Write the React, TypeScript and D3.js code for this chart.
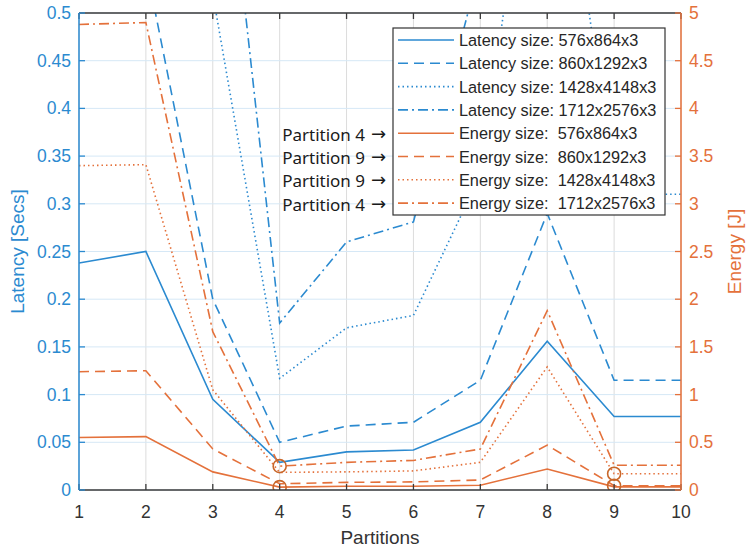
import React from "react";
import * as d3 from "d3";

const partitions = [1, 2, 3, 4, 5, 6, 7, 8, 9, 10];

const latency576 = [0.238, 0.25, 0.095, 0.029, 0.04, 0.042, 0.071, 0.156, 0.077, 0.077];
const latency860 = [0.53, 0.55, 0.2, 0.05, 0.067, 0.071, 0.115, 0.29, 0.115, 0.115];
const latency1428 = [0.62, 0.65, 0.52, 0.117, 0.17, 0.183, 0.33, 0.82, 0.31, 0.31];
const latency1712 = [0.78, 0.8, 0.81, 0.175, 0.26, 0.281, 0.55, 0.9, 0.7, 0.7];

const energy576 = [0.55, 0.56, 0.19, 0.03, 0.04, 0.04, 0.05, 0.22, 0.033, 0.033];
const energy860 = [1.24, 1.25, 0.43, 0.065, 0.08, 0.085, 0.105, 0.47, 0.045, 0.045];
const energy1428 = [3.4, 3.41, 1.05, 0.185, 0.19, 0.2, 0.29, 1.29, 0.17, 0.17];
const energy1712 = [4.88, 4.9, 1.66, 0.25, 0.29, 0.31, 0.43, 1.88, 0.26, 0.26];

const latencyTicks = [0, 0.05, 0.1, 0.15, 0.2, 0.25, 0.3, 0.35, 0.4, 0.45, 0.5];
const energyTicks = [0, 0.5, 1, 1.5, 2, 2.5, 3, 3.5, 4, 4.5, 5];

const legendLabels = [
  "Latency size: 576x864x3",
  "Latency size: 860x1292x3",
  "Latency size: 1428x4148x3",
  "Latency size: 1712x2576x3",
  "Energy size:  576x864x3",
  "Energy size:  860x1292x3",
  "Energy size:  1428x4148x3",
  "Energy size:  1712x2576x3",
];
const partitionNotes = ["Partition 4", "Partition 9", "Partition 9", "Partition 4"];
const ARROW = "\u2192";
const minPartitions = [4, 9, 9, 4];

const BLUE = "#2b8ad0";
const ORANGE = "#e4713b";
const CIRCLE = "#c8672a";
const AXIS = "#3a3a3a";

const dashes = [null, "10 6", "1.5 3", "10 4 2 4"];

export default function App() {
  const left = 79, right = 681, top = 13, bottom = 490;
  const x = d3.scaleLinear().domain([1, 10]).range([left, right]);
  const yL = d3.scaleLinear().domain([0, 0.5]).range([bottom, top]);
  const yR = d3.scaleLinear().domain([0, 5]).range([bottom, top]);

  const latSeries = [latency576, latency860, latency1428, latency1712];
  const enSeries = [energy576, energy860, energy1428, energy1712];

  const lineL = d3.line<number>().x((_, i) => x(partitions[i])).y((d) => yL(d));
  const lineR = d3.line<number>().x((_, i) => x(partitions[i])).y((d) => yR(d));

  const tickFont = "'Liberation Sans', Arial, Helvetica, sans-serif";
  const legTop = 28, legBottom = 215, legLeft = 393, legRight = 665;
  const rowY = (i: number) => 40 + i * 23.3;

  return (
    <svg
      width={747}
      height={547}
      style={{ position: "absolute", left: 0, top: 0, background: "#fff" }}
      fontFamily={tickFont}
    >
      <defs>
        <clipPath id="plot">
          <rect x={left} y={top} width={right - left} height={bottom - top} />
        </clipPath>
      </defs>
      <rect x={0} y={0} width={747} height={547} fill="#fff" />
      {/* grid */}
      {partitions.map((p) => (
        <line key={"vg" + p} x1={x(p)} x2={x(p)} y1={top} y2={bottom} stroke="#dcdcdc" strokeWidth={1} />
      ))}
      {latencyTicks.map((t) => (
        <line key={"hg" + t} x1={left} x2={right} y1={yL(t)} y2={yL(t)} stroke="#d6e8f6" strokeWidth={1} />
      ))}

      {/* data lines */}
      <g clipPath="url(#plot)" fill="none" strokeWidth={1.6}>
        {latSeries.map((s, i) => (
          <path key={"l" + i} d={lineL(s) || ""} stroke={BLUE} strokeDasharray={dashes[i] || undefined} />
        ))}
        {enSeries.map((s, i) => (
          <path key={"e" + i} d={lineR(s) || ""} stroke={ORANGE} strokeDasharray={dashes[i] || undefined} />
        ))}
        {enSeries.map((s, i) => (
          <circle
            key={"c" + i}
            cx={x(minPartitions[i])}
            cy={yR(s[minPartitions[i] - 1])}
            r={6.5}
            stroke={CIRCLE}
            strokeWidth={1.6}
            fill="none"
          />
        ))}
      </g>

      {/* top and bottom axes */}
      <line x1={left} x2={right} y1={top} y2={top} stroke={AXIS} strokeWidth={1.3} />
      <line x1={left} x2={right} y1={bottom} y2={bottom} stroke={AXIS} strokeWidth={1.3} />
      {partitions.map((p) => (
        <g key={"xt" + p}>
          <line x1={x(p)} x2={x(p)} y1={bottom} y2={bottom - 6} stroke={AXIS} strokeWidth={1.3} />
          <line x1={x(p)} x2={x(p)} y1={top} y2={top + 6} stroke={AXIS} strokeWidth={1.3} />
          <text x={x(p)} y={518} textAnchor="middle" fontSize={17.5} fill="#333">
            {p}
          </text>
        </g>
      ))}
      <text x={(left + right) / 2} y={544} textAnchor="middle" fontSize={19} fill="#333">
        Partitions
      </text>

      {/* left axis */}
      <line x1={left} x2={left} y1={top} y2={bottom} stroke={BLUE} strokeWidth={1.5} />
      {latencyTicks.map((t) => (
        <g key={"yl" + t}>
          <line x1={left} x2={left + 6} y1={yL(t)} y2={yL(t)} stroke={BLUE} strokeWidth={1.3} />
          <text x={71} y={yL(t) + 6} textAnchor="end" fontSize={17.5} fill={BLUE}>
            {String(t)}
          </text>
        </g>
      ))}
      <text transform={`translate(24,${(top + bottom) / 2}) rotate(-90)`} textAnchor="middle" fontSize={19} fill={BLUE}>
        Latency [Secs]
      </text>

      {/* right axis */}
      <line x1={right} x2={right} y1={top} y2={bottom} stroke={ORANGE} strokeWidth={1.5} />
      {energyTicks.map((t) => (
        <g key={"yr" + t}>
          <line x1={right} x2={right - 6} y1={yR(t)} y2={yR(t)} stroke={ORANGE} strokeWidth={1.3} />
          <text x={689} y={yR(t) + 6} textAnchor="start" fontSize={17.5} fill={ORANGE}>
            {String(t)}
          </text>
        </g>
      ))}
      <text transform={`translate(741,${(top + bottom) / 2}) rotate(-90)`} textAnchor="middle" fontSize={19} fill={ORANGE}>
        Energy [J]
      </text>

      {/* legend */}
      <rect x={legLeft} y={legTop} width={legRight - legLeft} height={legBottom - legTop} fill="#fff" stroke="#333" strokeWidth={1.2} />
      {legendLabels.map((lab, i) => (
        <g key={"lg" + i}>
          <line
            x1={398}
            x2={454}
            y1={rowY(i)}
            y2={rowY(i)}
            stroke={i < 4 ? BLUE : ORANGE}
            strokeWidth={1.6}
            strokeDasharray={dashes[i % 4] || undefined}
          />
          <text x={459} y={rowY(i) + 6} fontSize={16.3} fill="#262626" style={{ whiteSpace: "pre" }}>
            {lab}
          </text>
        </g>
      ))}
      {partitionNotes.map((n, i) => (
        <g key={"pn" + i}>
          <text
            x={365}
            y={rowY(i + 4) + 7.5}
            textAnchor="end"
            fontSize={17}
            fontFamily="'Noto Sans', 'Open Sans', sans-serif"
            fill="#1a1a1a"
          >
            {n}
          </text>
          <text
            x={371}
            y={rowY(i + 4) + 6.5}
            textAnchor="start"
            fontSize={18}
            fontFamily="'DejaVu Sans', sans-serif"
            fill="#1a1a1a"
          >
            {ARROW}
          </text>
        </g>
      ))}
    </svg>
  );
}
